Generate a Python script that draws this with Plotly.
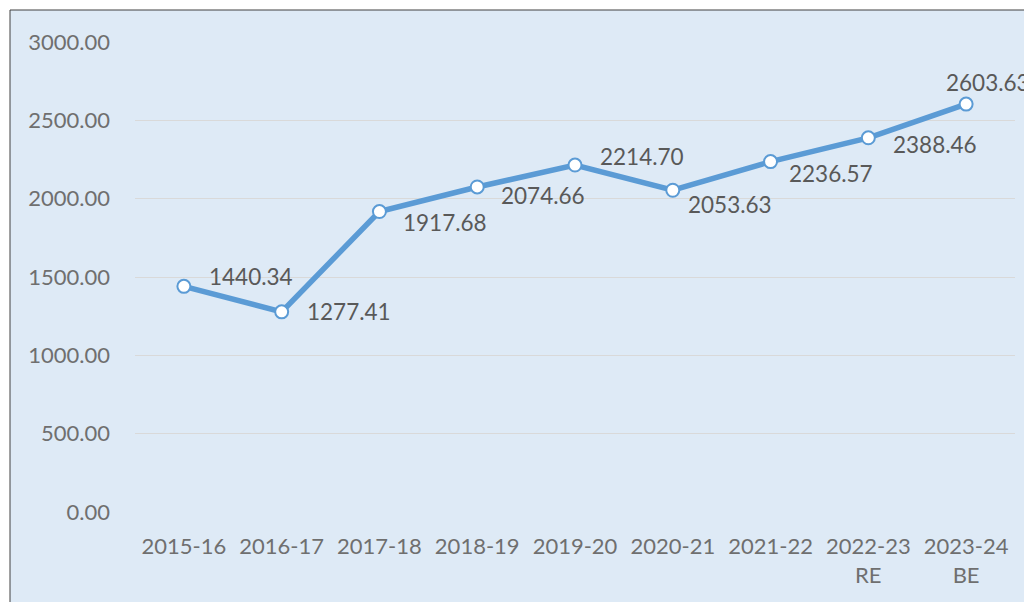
import plotly.graph_objects as go

categories = ["2015-16", "2016-17", "2017-18", "2018-19", "2019-20",
              "2020-21", "2021-22", "2022-23<br>RE", "2023-24<br>BE"]
values = [1440.34, 1277.41, 1917.68, 2074.66, 2214.70,
          2053.63, 2236.57, 2388.46, 2603.63]
y_ticks = [0, 500, 1000, 1500, 2000, 2500, 3000]
y_tick_text = ["0.00", "500.00", "1000.00", "1500.00", "2000.00", "2500.00", "3000.00"]

# label offsets (xshift to left edge, yshift of centre) in pixels
label_offsets = [(23, 10), (23, 0), (22, -11), (22, -9), (23, 9),
                 (13, -14), (16, -12), (23, -7), (-22, 22)]

# page has an 8px body margin: figure occupies screen (8..1032, 8..602)
W, H = 1024, 594
ml, mr, mt, mb = 127, 17, 34, 90
pw, ph = W - ml - mr, H - mt - mb

def px_x(p):
    return (p - ml) / pw

def px_y(p):
    return (H - mb - p) / ph

fig = go.Figure()
fig.add_trace(go.Scatter(
    x=list(range(len(categories))), y=values, mode="lines+markers",
    line=dict(color="#5B9BD5", width=5.5),
    marker=dict(size=13, color="white", line=dict(color="#5B9BD5", width=2)),
    hoverinfo="skip", showlegend=False, cliponaxis=False,
))

for i, (v, (dx, dy)) in enumerate(zip(values, label_offsets)):
    fig.add_annotation(
        x=i, y=v, xref="x", yref="y", text=f"{v:.2f}", showarrow=False,
        xanchor="left", yanchor="middle",
        xshift=dx, yshift=dy,
        font=dict(family="Lato", size=22.5, color="#595959"),
    )

fig.add_shape(type="rect", xref="paper", yref="paper",
              x0=px_x(2), x1=px_x(1040), y0=px_y(610), y1=px_y(2),
              fillcolor="#DEEAF6", line=dict(color="#404040", width=1),
              layer="below")

fig.update_layout(
    width=W, height=H,
    margin=dict(l=ml, r=mr, t=mt, b=mb),
    paper_bgcolor="white", plot_bgcolor="rgba(0,0,0,0)",
    font=dict(family="Lato", size=22, color="#6F6F6F"),
    xaxis=dict(
        tickmode="array", tickvals=list(range(len(categories))), ticktext=categories,
        range=[-0.5, len(categories) - 0.5], showgrid=False, zeroline=False,
        showline=False, ticks="", ticklabelstandoff=19,
    ),
    yaxis=dict(
        tickmode="array", tickvals=y_ticks, ticktext=y_tick_text,
        range=[0, 3000], showgrid=True, gridcolor="#D9D9D9", gridwidth=1,
        zeroline=False, showline=False, ticks="", ticklabelstandoff=24,
    ),
)

fig.write_html("out.html")
